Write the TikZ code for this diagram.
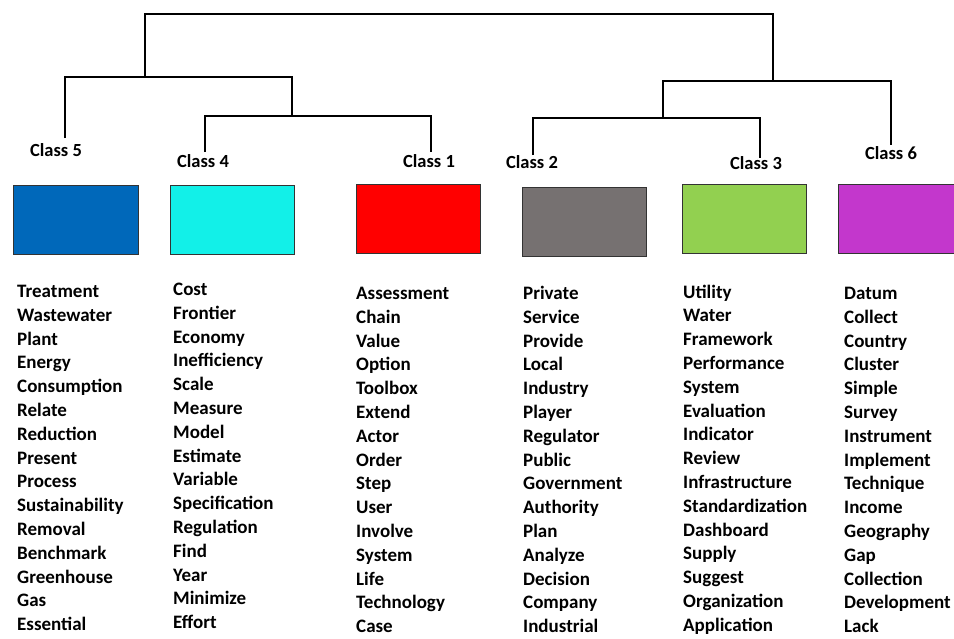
\documentclass[tikz,border=0pt]{standalone}
\usepackage{fontspec}
\setmainfont{Carlito}
\definecolor{clsblue}{HTML}{0068BA}
\definecolor{clscyan}{HTML}{12F0E8}
\definecolor{clsred}{HTML}{FF0000}
\definecolor{clsgray}{HTML}{767171}
\definecolor{clsgreen}{HTML}{92D050}
\definecolor{clsmagenta}{HTML}{C337CC}
\begin{document}
\begin{tikzpicture}[x=1pt,y=-1pt]
		\begin{scope}
		
		\tikzstyle{classlabel}=[inner sep=0pt,
		font=\fontsize{18.5}{20}\selectfont\bfseries
		]
		\tikzstyle{classbox}=[draw=black!80,
		line width=0.9pt,
		minimum width=124pt,
		minimum height=69pt,
		inner sep=0pt
		]
		\tikzstyle{word}=[inner sep=0pt,
		anchor=base west,
		font=\fontsize{19}{20}\selectfont\bfseries
		]
		\tikzstyle{tree}=[line width=1.7pt]
		
		\useasboundingbox (0,0) rectangle (954,638);
		\clip (0,0) rectangle (954,638);
		
		% leaf tops of the dendrogram
		\coordinate (t5) at (65, 138);
		\coordinate (t4) at (205, 152);
		\coordinate (t1) at (431, 152);
		\coordinate (t2) at (533, 155);
		\coordinate (t3) at (760, 158);
		\coordinate (t6) at (891, 145);
		
		% joints
		\coordinate (m41) at (292, 116);
		\coordinate (m541) at (145, 77);
		\coordinate (m23) at (663, 118);
		\coordinate (m236) at (773, 81);
		\coordinate (root) at (459, 14);
		
		\draw[tree] (t4) |- (m41) -| (t1);
		\draw[tree] (t5) |- (m541) -| (m41);
		\draw[tree] (t2) |- (m23) -| (t3);
		\draw[tree] (m23) |- (m236) -| (t6);
		\draw[tree] (m541) |- (root) -| (m236);
		
		\node[classlabel] (c5) at (56, 150) {Class 5};
		\node[classlabel] (c4) at (203, 161) {Class 4};
		\node[classlabel] (c1) at (429, 161) {Class 1};
		\node[classlabel] (c2) at (532, 162) {Class 2};
		\node[classlabel] (c3) at (756, 163) {Class 3};
		\node[classlabel] (c6) at (891, 153) {Class 6};
		
		\node[classbox, fill=clsblue, minimum width=125pt] (b5) at (75.5, 219.5) {};
		\node[classbox, fill=clscyan] (b4) at (232, 219.5) {};
		\node[classbox, fill=clsred] (b1) at (418.5, 218.5) {};
		\node[classbox, fill=clsgray] (b2) at (584, 221.5) {};
		\node[classbox, fill=clsgreen] (b3) at (744.5, 218.5) {};
		\node[classbox, fill=clsmagenta] (b6) at (900, 218.5) {};
		
		% word lists
		\foreach \n/\xx/\yy/\words in {
			5/17/297.5/{Treatment,Wastewater,Plant,Energy,Consumption,Relate,Reduction,Present,Process,Sustainability,Removal,Benchmark,Greenhouse,Gas,Essential},
			4/173/295.5/{Cost,Frontier,Economy,Inefficiency,Scale,Measure,Model,Estimate,Variable,Specification,Regulation,Find,Year,Minimize,Effort},
			1/356/299.5/{Assessment,Chain,Value,Option,Toolbox,Extend,Actor,Order,Step,User,Involve,System,Life,Technology,Case},
			2/523/299.5/{Private,Service,Provide,Local,Industry,Player,Regulator,Public,Government,Authority,Plan,Analyze,Decision,Company,Industrial},
			3/683/298/{Utility,Water,Framework,Performance,System,Evaluation,Indicator,Review,Infrastructure,Standardization,Dashboard,Supply,Suggest,Organization,Application},
			6/844/299.5/{Datum,Collect,Country,Cluster,Simple,Survey,Instrument,Implement,Technique,Income,Geography,Gap,Collection,Development,Lack}}
		{
			\foreach \w [count=\i from 0] in \words
				\node[word] (w\n-\i) at (\xx, \yy+23.8*\i) {\w};
		}
		
		\end{scope}
\end{tikzpicture}
\end{document}
